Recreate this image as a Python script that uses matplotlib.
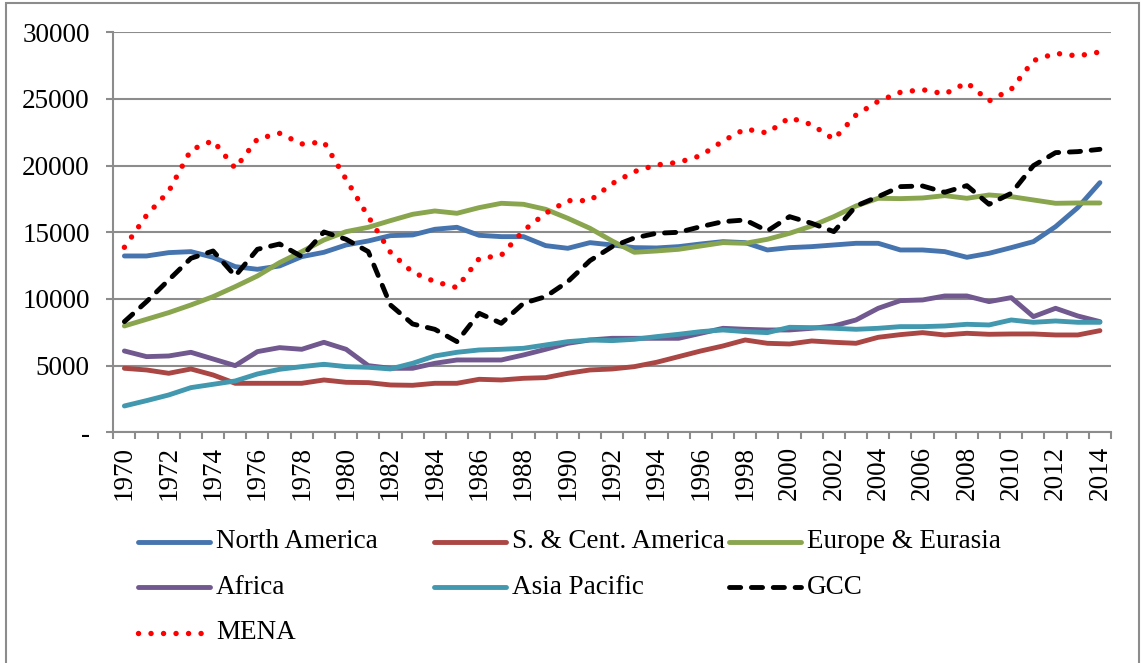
import matplotlib
matplotlib.use("Agg")
import matplotlib.pyplot as plt
from matplotlib.lines import Line2D
from matplotlib.patches import Rectangle
from matplotlib.ticker import FuncFormatter, MultipleLocator

### DATA ###
years = list(range(1970, 2015))

north_america = [13225, 13225, 13475, 13550, 13125, 12425, 12225, 12475, 13175, 13500, 14050, 14350, 14750, 14800, 15225,
                 15375, 14775, 14675, 14675, 14000, 13800, 14225, 14050, 13850, 13825, 13925, 14125, 14300, 14225, 13675,
                 13850, 13925, 14050, 14175, 14175, 13675, 13675, 13550, 13125, 13425, 13850, 14300, 15425, 16850, 18725]
s_cent_america = [4800, 4675, 4425, 4750, 4300, 3675, 3675, 3675, 3675, 3925, 3750, 3725, 3550, 3525, 3675,
                  3675, 3975, 3925, 4050, 4100, 4425, 4675, 4750, 4925, 5250, 5675, 6100, 6475, 6925, 6675,
                  6625, 6850, 6750, 6675, 7125, 7325, 7475, 7300, 7425, 7350, 7375, 7375, 7300, 7300, 7625]
europe_eurasia = [7975, 8475, 8975, 9550, 10175, 10925, 11725, 12725, 13550, 14425, 15050, 15375, 15875, 16350, 16600,
                  16425, 16850, 17175, 17100, 16725, 16050, 15300, 14350, 13500, 13600, 13725, 13975, 14225, 14175, 14475,
                  14925, 15475, 16175, 16975, 17550, 17525, 17575, 17750, 17550, 17800, 17675, 17425, 17175, 17200, 17200]
africa = [6100, 5675, 5725, 6000, 5500, 5000, 6050, 6350, 6225, 6750, 6225, 5000, 4800, 4800, 5175,
          5425, 5425, 5425, 5800, 6225, 6675, 6925, 7050, 7050, 7050, 7050, 7425, 7800, 7725, 7675,
          7675, 7800, 7975, 8425, 9300, 9875, 9925, 10225, 10225, 9800, 10100, 8675, 9300, 8725, 8300]
asia_pacific = [1975, 2375, 2800, 3350, 3600, 3850, 4375, 4725, 4925, 5100, 4925, 4875, 4750, 5175, 5725,
                6000, 6175, 6225, 6300, 6550, 6800, 6925, 6875, 6975, 7175, 7350, 7550, 7675, 7550, 7475,
                7875, 7850, 7800, 7725, 7800, 7925, 7925, 7975, 8100, 8050, 8425, 8250, 8350, 8250, 8250]
gcc = [8300, 9800, 11425, 13050, 13600, 11725, 13725, 14125, 13175, 15025, 14475, 13550, 9550, 8125, 7725,
       6800, 8925, 8175, 9675, 10175, 11300, 12875, 13925, 14575, 14925, 15000, 15425, 15800, 15925, 15100,
       16175, 15675, 15050, 16975, 17675, 18425, 18475, 18000, 18500, 17100, 17925, 20000, 20975, 21050, 21225]
mena = [13875, 16275, 18075, 21175, 21875, 19800, 22000, 22425, 21625, 21775, 18975, 16175, 13500, 12000, 11300,
        10850, 13025, 13275, 15125, 16425, 17375, 17375, 18650, 19550, 20050, 20250, 20750, 21850, 22750, 22450,
        23600, 23075, 21975, 23800, 24825, 25500, 25700, 25375, 26225, 24850, 25725, 27875, 28425, 28225, 28525]

series_names = ["North America", "S. & Cent. America", "Europe & Eurasia",
                "Africa", "Asia Pacific", "GCC", "MENA"]
series_values = [north_america, s_cent_america, europe_eurasia, africa, asia_pacific, gcc, mena]

### STYLES ###
LW = 3.5
styles = [
    dict(color="#4674AE", linestyle="-", solid_capstyle="round", linewidth=LW),
    dict(color="#AA4643", linestyle="-", solid_capstyle="round", linewidth=LW),
    dict(color="#89A54E", linestyle="-", solid_capstyle="round", linewidth=LW),
    dict(color="#71588F", linestyle="-", solid_capstyle="round", linewidth=LW),
    dict(color="#4198AF", linestyle="-", solid_capstyle="round", linewidth=LW),
    dict(color="black", linestyle=(0, (2.3, 2.2)), dash_capstyle="round", linewidth=LW),
    dict(color="#FF0000", linestyle=(0, (0.01, 2.3)), dash_capstyle="round", linewidth=3.9),
]
GRAY = "#8C8C8C"
FS = 19.5

plt.rcParams["font.family"] = ["Liberation Serif", "DejaVu Serif"]

W, H = 1141, 663
fig = plt.figure(figsize=(W / 100, H / 100), dpi=100)

# chart border
fig.patches.append(Rectangle((6 / W, -0.02), (1139 - 6) / W, 1.02 - 3 / H,
                             transform=fig.transFigure, fill=False,
                             edgecolor=GRAY, linewidth=1.5))

left, right, top, bottom = 113.3, 1111.0, 32.3, 432.3
ax = fig.add_axes([left / W, 1 - bottom / H, (right - left) / W, (bottom - top) / H])

for name, vals, st in zip(series_names, series_values, styles):
    ax.plot(years, vals, label=name, **st)

ax.set_xlim(1969.5, 2014.5)
ax.set_ylim(0, 30000)

ax.yaxis.set_major_locator(MultipleLocator(5000))
ax.yaxis.set_major_formatter(FuncFormatter(lambda v, p: "-" if v == 0 else f"{int(v)}"))
ax.grid(axis="y", color=GRAY, linewidth=1.5)
ax.set_axisbelow(True)

ax.set_xticks(years[::2])
ax.set_xticklabels([str(y) for y in years[::2]], rotation=90)
ax.set_xticks([y - 0.5 for y in years] + [2014.5], minor=True)

ax.tick_params(axis="y", labelsize=FS, length=5, width=1.5, color=GRAY, pad=12)
ax.tick_params(axis="x", which="major", labelsize=FS, length=0, pad=10)
ax.tick_params(axis="x", which="minor", length=5, width=1.5, color=GRAY)

for side in ["top", "right"]:
    ax.spines[side].set_visible(False)
for side in ["left", "bottom"]:
    ax.spines[side].set_color(GRAY)
    ax.spines[side].set_linewidth(1.5)

### LEGEND (Excel style, row by row) ###
for i, (name, st) in enumerate(zip(series_names, styles)):
    row, col = i // 3, i % 3
    x0 = 138 + col * 295.5
    y0 = 542 + row * 45.3
    fig.add_artist(Line2D([x0 / W, (x0 + 72) / W], [1 - y0 / H, 1 - y0 / H],
                          transform=fig.transFigure, **st))
    fig.text((x0 + 78) / W, 1 - y0 / H, name, fontsize=FS, va="center", ha="left")

fig.savefig("out.png", dpi=100)
